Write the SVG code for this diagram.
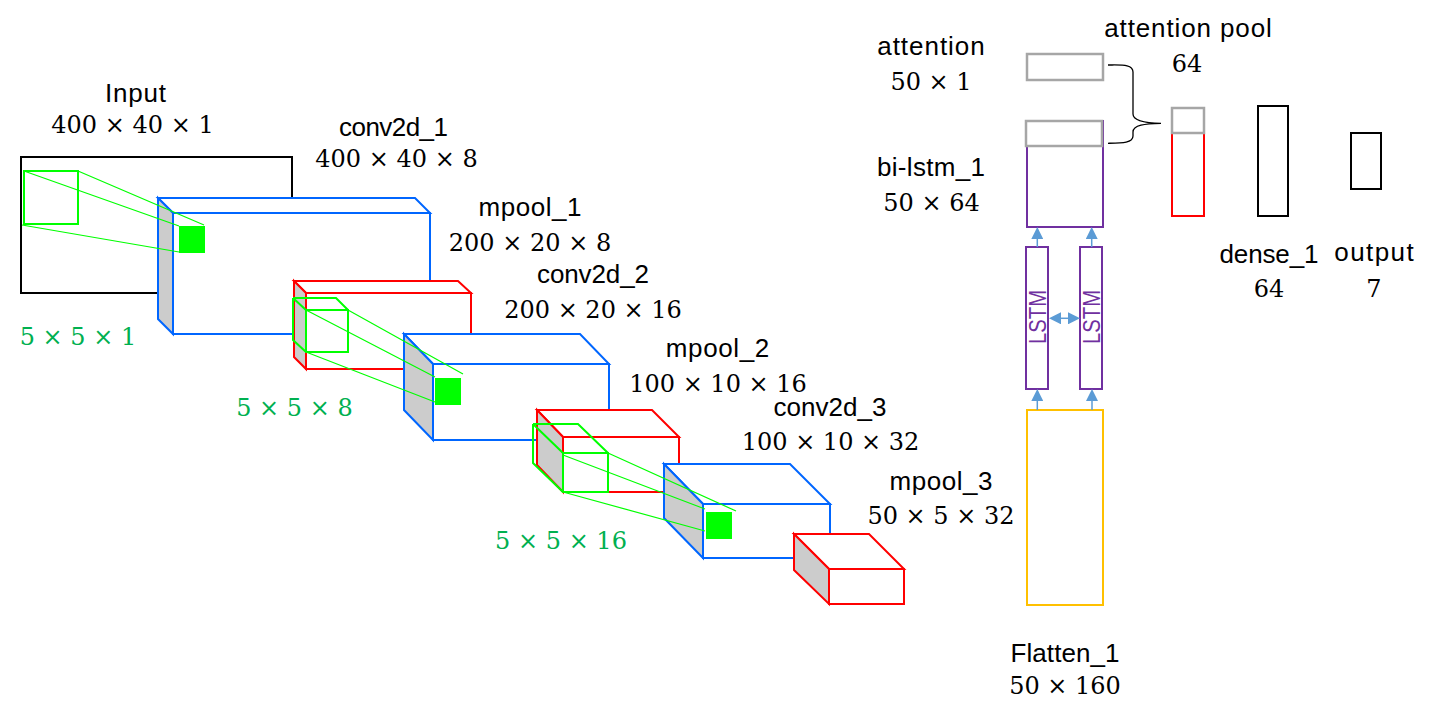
<svg xmlns="http://www.w3.org/2000/svg" width="1433" height="712" viewBox="0 0 1433 712">
<style>
.name{font-family:"Liberation Sans",Arial,sans-serif;font-size:26px;fill:#000;text-anchor:middle}
.dim{font-family:"DejaVu Serif","Liberation Serif",serif;font-size:24px;fill:#000;text-anchor:middle}
.k{fill:#00B050}
.blue{stroke:#0066FF;stroke-width:2}
.red{stroke:#FF0000;stroke-width:2}
.face{fill:#FFFFFF}
.side{fill:#CCCCCC}
.gk{stroke:#00FF00;stroke-width:2;fill:none}
.gf{fill:#00FF00}
.gl{stroke:#00FF00;stroke-width:1.2;fill:none}
.gray{stroke:#A6A6A6;stroke-width:2.5;fill:#FFFFFF}
.purple{stroke:#7030A0;stroke-width:2;fill:#FFFFFF}
.blk{stroke:#000;stroke-width:2;fill:#FFFFFF}
.arr{stroke:#5B9BD5;stroke-width:1.5;fill:none}
.lstm{font-family:"Liberation Sans",Arial,sans-serif;font-size:23px;fill:#7030A0;text-anchor:middle}
</style>
<defs>
<marker id="ah" viewBox="0 0 12 12" refX="0" refY="6" markerWidth="12" markerHeight="12" markerUnits="userSpaceOnUse" orient="auto-start-reverse">
<path d="M0,0 L12,6 L0,12 Z" fill="#5B9BD5"/>
</marker>
</defs>
<rect width="1433" height="712" fill="#FFFFFF"/>

<g id="input">
<rect class="blk" x="21" y="157" width="271" height="136"/>
<rect class="gk" x="24" y="171" width="54" height="53"/>
<text class="name" x="135.5" y="102" textLength="61" lengthAdjust="spacing">Input</text>
<text class="dim" x="132.5" y="133">400 × 40 × 1</text>
<text class="dim k" x="78" y="345">5 × 5 × 1</text>
</g>

<g id="conv2d_1">
<polygon class="blue face" points="158,198 415,198 430,213 173,213"/>
<polygon class="blue side" points="158,198 173,213 173,334 158,319"/>
<rect class="blue face" x="173" y="213" width="257" height="121"/>
<rect class="gf" x="179" y="226" width="26" height="27"/>
<text class="name" x="393.5" y="136" textLength="109" lengthAdjust="spacing">conv2d_1</text>
<text class="dim" x="396.5" y="167">400 × 40 × 8</text>
</g>

<g id="mpool_1">
<polygon class="red face" points="294,281 458,281 471,293 306,293"/>
<polygon class="red side" points="294,281 306,293 306,369 294,357"/>
<rect class="red face" x="306" y="293" width="165" height="76"/>
<path class="gk" d="M306,310 H348 V352 H306 Z M293,298 H336 L348,310 M293,298 L306,310 M293,298 V340 L306,352"/>
<text class="name" x="530" y="216" textLength="103" lengthAdjust="spacing">mpool_1</text>
<text class="dim" x="530" y="250.5">200 × 20 × 8</text>
<text class="dim k" x="294.5" y="416">5 × 5 × 8</text>
</g>

<g id="conv2d_2">
<polygon class="blue face" points="404,334 580,334 609,364 433,364"/>
<polygon class="blue side" points="404,334 433,364 433,440 404,410"/>
<rect class="blue face" x="433" y="364" width="176" height="76"/>
<rect class="gf" x="435" y="378" width="26" height="27"/>
<text class="name" x="593" y="282.5" textLength="112" lengthAdjust="spacing">conv2d_2</text>
<text class="dim" x="593" y="317.5">200 × 20 × 16</text>
</g>

<g id="mpool_2">
<polygon class="red face" points="537,410 652,410 679,437 563,437"/>
<polygon class="red side" points="537,410 563,437 563,492 537,465"/>
<rect class="red face" x="563" y="437" width="116" height="55"/>
<path class="gk" d="M563,453 H608 V492 H563 Z M533,424 H578 L608,453 M533,424 L563,453 M533,424 V463 L563,492"/>
<text class="name" x="717.5" y="357" textLength="103.5" lengthAdjust="spacing">mpool_2</text>
<text class="dim" x="718" y="391.5">100 × 10 × 16</text>
<text class="dim k" x="561" y="548.5">5 × 5 × 16</text>
</g>

<g id="conv2d_3">
<polygon class="blue face" points="664,464 790,464 830,504 703,504"/>
<polygon class="blue side" points="664,464 703,504 703,558 664,518"/>
<rect class="blue face" x="703" y="504" width="127" height="54"/>
<rect class="gf" x="706" y="512" width="26" height="27"/>
<text class="name" x="830" y="416" textLength="113" lengthAdjust="spacing">conv2d_3</text>
<text class="dim" x="830.5" y="450">100 × 10 × 32</text>
</g>

<g id="mpool_3">
<polygon class="red face" points="794,534 869,534 904,569 829,569"/>
<polygon class="red side" points="794,534 829,569 829,604 794,570"/>
<rect class="red face" x="829" y="569" width="75" height="35"/>
<text class="name" x="941" y="490" textLength="103" lengthAdjust="spacing">mpool_3</text>
<text class="dim" x="941" y="524">50 × 5 × 32</text>
</g>

<g id="flatten_1">
<rect x="1027" y="410" width="76" height="195" fill="#FFFFFF" stroke="#FFC000" stroke-width="2"/>
<text class="name" x="1065" y="661.5" textLength="109" lengthAdjust="spacing">Flatten_1</text>
<text class="dim" x="1065" y="694">50 × 160</text>
</g>

<g id="lstm_forward">
<rect class="purple" x="1026" y="247" width="22" height="142"/>
<text class="lstm" transform="translate(1045.5,317) rotate(-90)" x="0" y="0" textLength="54" lengthAdjust="spacingAndGlyphs">LSTM</text>
</g>

<g id="lstm_backward">
<rect class="purple" x="1080" y="247" width="22" height="142"/>
<text class="lstm" transform="translate(1099.5,317) rotate(-90)" x="0" y="0" textLength="54" lengthAdjust="spacingAndGlyphs">LSTM</text>
</g>

<g id="bi-lstm_1">
<rect class="purple" x="1027" y="121" width="76" height="106"/>
<rect class="gray" x="1026" y="121" width="76" height="25"/>
<text class="name" x="931" y="176" textLength="108" lengthAdjust="spacing">bi-lstm_1</text>
<text class="dim" x="931.5" y="210.5">50 × 64</text>
</g>

<g id="attention">
<rect class="gray" x="1027" y="54" width="76" height="26"/>
<text class="name" x="931" y="55" textLength="107.5" lengthAdjust="spacing">attention</text>
<text class="dim" x="931" y="90">50 × 1</text>
</g>

<g id="attention_pool">
<rect x="1172" y="108" width="32" height="108" fill="#FFFFFF" stroke="#FF0000" stroke-width="2"/>
<rect class="gray" x="1172" y="108" width="32" height="25"/>
<text class="name" x="1188" y="36.5" textLength="167.5" lengthAdjust="spacing">attention pool</text>
<text class="dim" x="1187" y="72">64</text>
</g>

<g id="dense_1">
<rect class="blk" x="1258" y="106" width="30" height="110"/>
<text class="name" x="1269" y="262.5" textLength="99" lengthAdjust="spacing">dense_1</text>
<text class="dim" x="1269" y="296.5">64</text>
</g>

<g id="output">
<rect class="blk" x="1351" y="133" width="30" height="56"/>
<text class="name" x="1374" y="261" textLength="79.5" lengthAdjust="spacing">output</text>
<text class="dim" x="1374" y="296.5">7</text>
</g>

<g id="connectors">
<path class="gl" d="M78,171 L204,225 M24,171 L179,226 M22,225 L179,252"/>
<path class="gl" d="M348,310 L463,374 M306,310 L435,377 M306,352 L435,402"/>
<path class="gl" d="M608,453 L736,511 M563,455 L705,509 M563,492 L705,531"/>
<line class="arr" x1="1037.3" y1="410" x2="1037.3" y2="401" marker-end="url(#ah)"/>
<line class="arr" x1="1092" y1="410" x2="1092" y2="401" marker-end="url(#ah)"/>
<line class="arr" x1="1037.3" y1="247" x2="1037.3" y2="239" marker-end="url(#ah)"/>
<line class="arr" x1="1091.7" y1="247" x2="1091.7" y2="239" marker-end="url(#ah)"/>
<line class="arr" x1="1061" y1="318.3" x2="1068" y2="318.3" marker-start="url(#ah)" marker-end="url(#ah)"/>
<path d="M1108,65 C1122,65 1133,64 1133,72 L1133,114 C1133,121 1145,123 1161,123.3 C1145,123.6 1133,125 1133,132 L1133,136 C1133,143 1122,143 1108,143.3" fill="none" stroke="#000" stroke-width="1.3"/>
</g>
</svg>
